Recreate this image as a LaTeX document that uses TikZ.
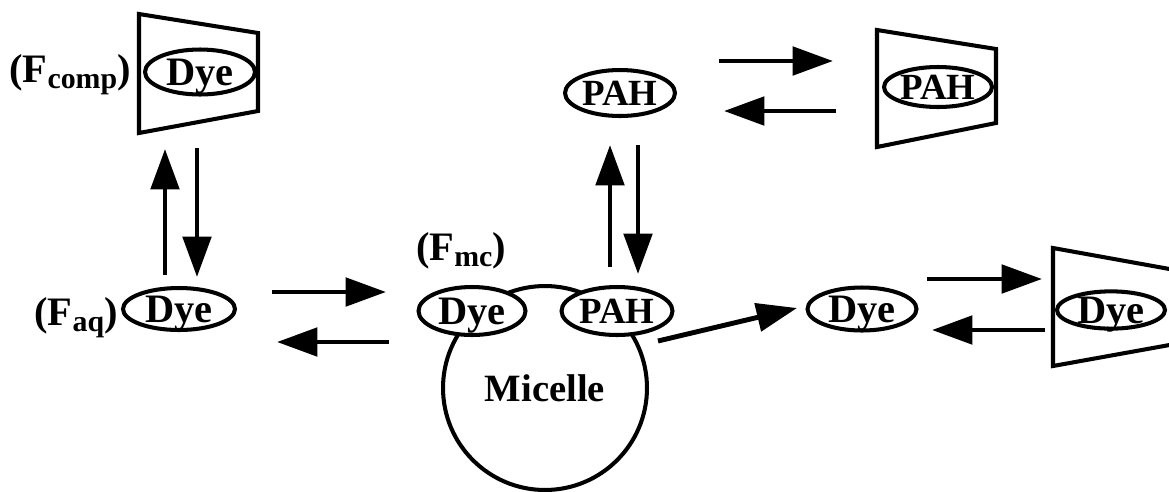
\documentclass[tikz,border=0pt]{standalone}
\usepackage{fontspec}
\setmainfont{Liberation Serif}
\usetikzlibrary{shapes.geometric, arrows.meta}
\newcommand{\lowsub}[1]{\raisebox{-3.5pt}{\fontsize{17}{17}\selectfont #1}}

\begin{document}
\begin{tikzpicture}[x=0.02cm, y=-0.02cm,
    species/.style={ellipse, draw, line width=2.3pt, fill=white, inner sep=0pt,
                    text height=15pt, text depth=0pt,
                    font=\bfseries\fontsize{23}{26}\selectfont},
    pah/.style={species, font=\bfseries\fontsize{21}{26}\selectfont, text height=14pt},
    cage/.style={line width=2.3pt, line join=miter},
    eqarrow/.style={line width=2.8pt, -{Triangle[length=23pt, width=16pt]}},
    tag/.style={font=\bfseries\fontsize{23}{26}\selectfont, anchor=base, inner sep=0pt}]

    % --- FRAME (1 unit = 1 px of the 1169 x 491 picture) ---
    \useasboundingbox (0,0) rectangle (1169,491);
    \clip (0,0) rectangle (1169,491);

    % --- MICELLE ---
    \node[circle, draw, line width=2.3pt, minimum size=4.08cm, inner sep=0pt,
          font=\bfseries\fontsize{22}{26}\selectfont] (micelle) at (545,388) {Micelle};

    % --- CAGES (complex hosts) ---
    \draw[cage] (139,14) -- (258,33) -- (258,111) -- (139,133) -- cycle;
    \draw[cage] (877,30) -- (996,49) -- (996,123) -- (877,147) -- cycle;
    \draw[cage] (1053,248) -- (1175,270) -- (1175,344) -- (1053,366) -- cycle;

    % --- SPECIES ---
    \node[species, minimum width=2.2cm, minimum height=0.9cm] (compdye) at (200,72) {Dye};
    \node[species, minimum width=2.24cm, minimum height=0.84cm] (aqdye) at (179,309) {Dye};
    \node[species, minimum width=2.14cm, minimum height=0.96cm] (mcdye) at (472,311) {Dye};
    \node[pah, minimum width=2.22cm, minimum height=0.96cm] (mcpah) at (617,311) {PAH};
    \node[pah, minimum width=2.2cm, minimum height=0.92cm] (aqpah) at (620,93) {PAH};
    \node[pah, minimum width=2.16cm, minimum height=0.8cm] (comppah) at (938,87) {PAH};
    \node[species, minimum width=2.18cm, minimum height=0.86cm] (freedye) at (862,309) {Dye};
    \node[species, minimum width=2.16cm, minimum height=0.72cm] (cagedye) at (1111,310) {Dye};

    % --- FRACTION LABELS ---
    \node[tag] (fcomp) at (70,82) {(F\lowsub{comp})};
    \node[tag] (faq) at (76,325) {(F\lowsub{aq})};
    \node[tag] (fmc) at (461,260) {(F\lowsub{mc})};

    % --- ARROW ENDS ---
    \coordinate (aqup0) at (165,275);   \coordinate (aqup1) at (165,149);
    \coordinate (aqdn0) at (197,148);   \coordinate (aqdn1) at (197,277);
    \coordinate (mcin0) at (272,292);   \coordinate (mcin1) at (386,292);
    \coordinate (mcout0) at (389,342);  \coordinate (mcout1) at (277,342);
    \coordinate (pahup0) at (610,267);  \coordinate (pahup1) at (610,145);
    \coordinate (pahdn0) at (638,145);  \coordinate (pahdn1) at (638,274);
    \coordinate (pahin0) at (719,61);   \coordinate (pahin1) at (833,61);
    \coordinate (pahout0) at (836,111); \coordinate (pahout1) at (724,111);
    \coordinate (rel0) at (658,341);    \coordinate (rel1) at (797,308);
    \coordinate (dyein0) at (927,279);  \coordinate (dyein1) at (1042,279);
    \coordinate (dyeout0) at (1045,330); \coordinate (dyeout1) at (932,330);

    % --- EQUILIBRIUM ARROWS ---
    \draw[eqarrow] (aqup0) -- (aqup1);
    \draw[eqarrow] (aqdn0) -- (aqdn1);
    \draw[eqarrow] (mcin0) -- (mcin1);
    \draw[eqarrow] (mcout0) -- (mcout1);
    \draw[eqarrow] (pahup0) -- (pahup1);
    \draw[eqarrow] (pahdn0) -- (pahdn1);
    \draw[eqarrow] (pahin0) -- (pahin1);
    \draw[eqarrow] (pahout0) -- (pahout1);
    \draw[eqarrow] (rel0) -- (rel1);
    \draw[eqarrow] (dyein0) -- (dyein1);
    \draw[eqarrow] (dyeout0) -- (dyeout1);

\end{tikzpicture}
\end{document}
